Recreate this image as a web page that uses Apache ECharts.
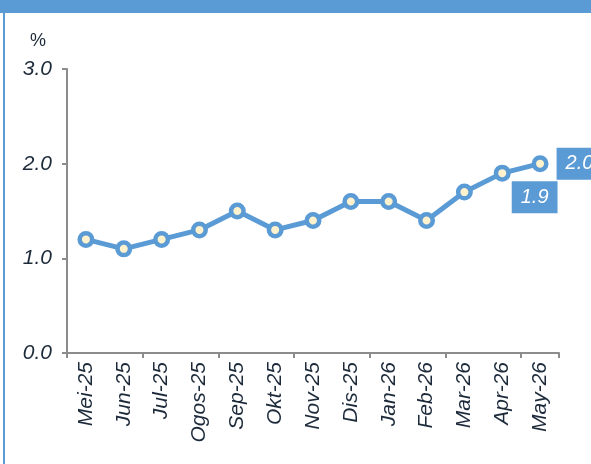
<!DOCTYPE html>
<html><head><meta charset="utf-8">
<script src="https://cdn.jsdelivr.net/npm/echarts@6/dist/echarts.min.js"></script>
<style>html,body{margin:0;padding:0;background:#fff}#c{width:591px;height:464px}</style>
</head><body><div id="c"></div>
<script>
const categories = ['Mei-25','Jun-25','Jul-25','Ogos-25','Sep-25','Okt-25','Nov-25','Dis-25','Jan-26','Feb-26','Mar-26','Apr-26','May-26'];
const values = [1.2,1.1,1.2,1.3,1.5,1.3,1.4,1.6,1.6,1.4,1.7,1.9,2.0];
const yTicks = [0,1,2,3];

const blue = '#5b9bd5';
const txt = '#1c2a3a';
const ff = '"Liberation Sans", Arial, sans-serif';
const chart = echarts.init(document.getElementById('c'), null, {renderer:'canvas'});
const data = values.map((v,i)=>{
  const d = {value:v};
  if (i===11) d.label = {show:true, position:'right', distance:1, offset:[0,24]};
  if (i===12) d.label = {show:true, position:'right', distance:8, offset:[0,0]};
  return d;
});
chart.setOption({
  animation:false,
  graphic:[
    {type:'rect', shape:{x:0,y:0,width:591,height:13}, style:{fill:blue}, z:100},
    {type:'rect', shape:{x:3,y:13,width:2,height:451}, style:{fill:blue}, z:100},
    {type:'text', left:30, top:32, style:{text:'%', font:'18px ' + ff, fill:txt}}
  ],
  grid:{left:67, top:69, right:32, bottom:111, containLabel:false},
  xAxis:{
    type:'category', data:categories, boundaryGap:true,
    axisLine:{lineStyle:{color:'#8c8c8c', width:2}},
    axisTick:{show:true, interval:1, length:5, lineStyle:{color:'#8c8c8c', width:2}},
    axisLabel:{interval:0, rotate:90, margin:9, color:txt, fontStyle:'italic', fontSize:21, fontFamily:ff}
  },
  yAxis:{
    type:'value', min:yTicks[0], max:yTicks[yTicks.length-1], interval:1,
    splitLine:{show:false},
    axisLine:{show:true, lineStyle:{color:'#8c8c8c', width:2}},
    axisTick:{show:true, length:5, lineStyle:{color:'#8c8c8c', width:2}},
    axisLabel:{margin:15, color:txt, fontStyle:'italic', fontSize:21, fontFamily:ff, formatter:v=>v.toFixed(1)}
  },
  series:[{
    type:'line', data:data,
    lineStyle:{color:blue, width:5},
    symbol:'circle', symbolSize:12.5,
    itemStyle:{color:'#fff2cc', borderColor:blue, borderWidth:4.5},
    label:{show:false, formatter:p=>p.value.toFixed(1), color:'#fff', backgroundColor:blue, fontStyle:'italic', fontSize:20, fontFamily:ff, padding:[6,9,6,9]},
    z:3
  }]
});
</script></body></html>
